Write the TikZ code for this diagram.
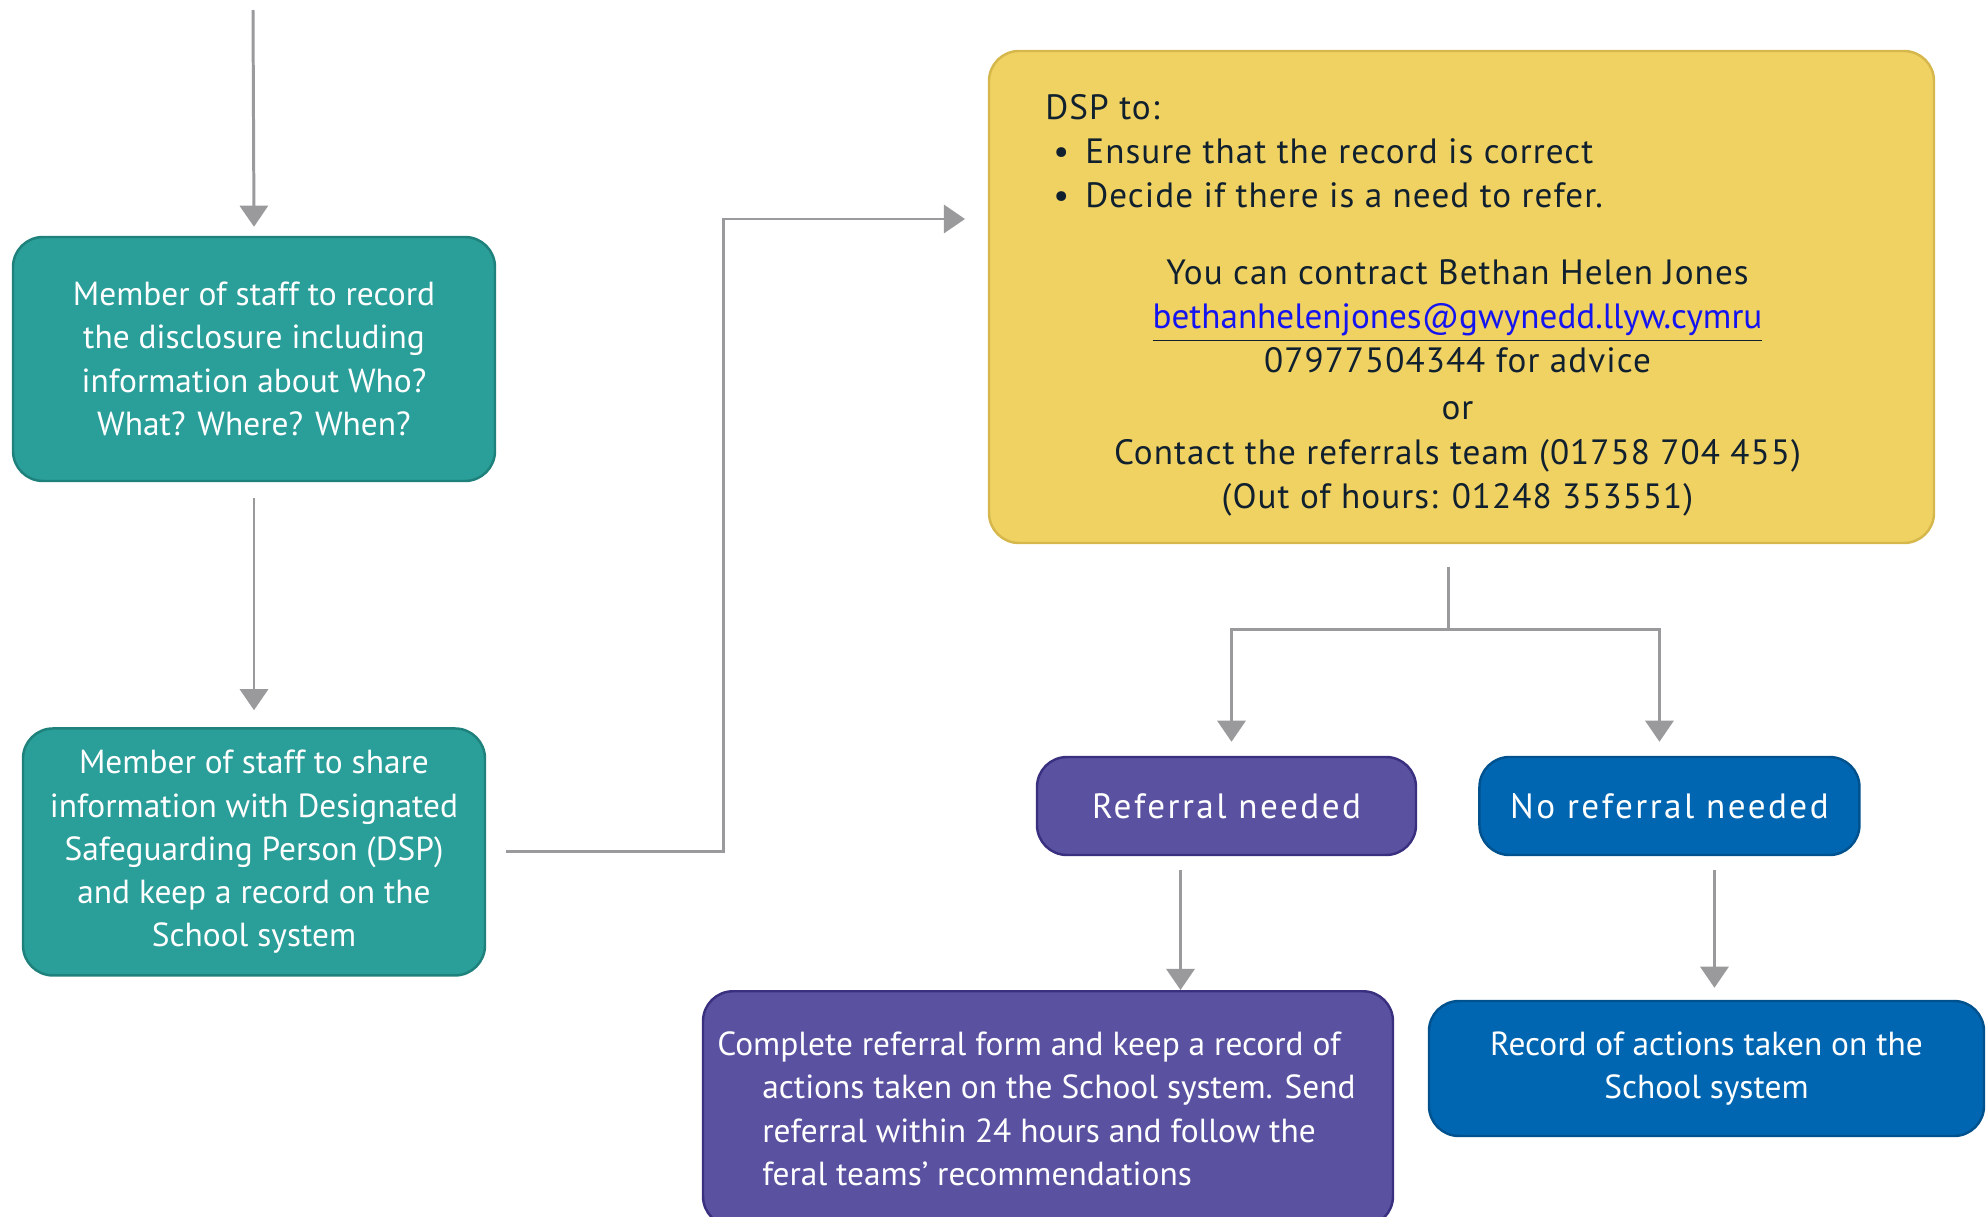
\documentclass[tikz,border=0pt]{standalone}
\usepackage{fontspec}
\setmainfont{PT Sans}
\newfontfamily\dspfont[LetterSpace=3]{PT Sans}
\newfontfamily\buttonfont[LetterSpace=7]{PT Sans}
\usetikzlibrary{positioning,arrows.meta}
\definecolor{staffteal}{HTML}{2A9E99}
\definecolor{staffedge}{HTML}{1F817C}
\definecolor{dspyellow}{HTML}{F0D263}
\definecolor{dspedge}{HTML}{D5B74C}
\definecolor{refpurple}{HTML}{5A52A1}
\definecolor{refedge}{HTML}{3A3080}
\definecolor{norefblue}{HTML}{0066B2}
\definecolor{norefedge}{HTML}{00528F}
\definecolor{linegray}{HTML}{9A9A9D}
\definecolor{dspink}{HTML}{10202E}
\definecolor{mailblue}{HTML}{1414F0}

\begin{document}
\begin{tikzpicture}[
    x=0.1mm,y=-0.1mm,
    >={Triangle[width=8pt,length=6pt]},
    box/.style={rounded corners=3mm,line width=0.7pt,align=center,inner sep=0pt,
      text=white,font=\fontsize{9.5pt}{12.3pt}\selectfont},
    staffbox/.style={box,fill=staffteal,draw=staffedge},
    dspbox/.style={box,fill=dspyellow,draw=dspedge,minimum width=94.5mm,minimum height=49.2mm},
    dsptext/.style={inner sep=0pt,text=dspink,font=\dspfont\fontsize{10pt}{12.5pt}\selectfont},
    refbox/.style={box,fill=refpurple,draw=refedge},
    norefbox/.style={box,fill=norefblue,draw=norefedge},
    button/.style={font=\buttonfont\fontsize{10pt}{12.3pt}\selectfont,minimum height=9.8mm},
    wire/.style={draw=linegray,line width=0.85pt},
    flow/.style={wire,->}]
    \useasboundingbox (0,0) rectangle (1986,1217);

    % left column
    \node[staffbox,minimum width=48.2mm,minimum height=24.4mm] (record) at (254,359)
      {Member of staff to record\\the disclosure including\\information about Who?\\What? Where? When?};
    \node[staffbox,minimum width=46.2mm,minimum height=24.7mm,below=24.5mm of record] (share)
      {Member of staff to share\\information with Designated\\Safeguarding Person (DSP)\\and keep a record on the\\School system};

    % DSP box
    \node[dspbox] (dsp) at (1461.5,297) {};
    \node[dsptext,align=left,anchor=north west] (dsplist) at ([xshift=5.7mm,yshift=-4.4mm]dsp.north west)
      {DSP to:\\\hspace*{0.8mm}\textbullet\hspace{1.6mm}Ensure that the record is correct\\
       \hspace*{0.8mm}\textbullet\hspace{1.6mm}Decide if there is a need to refer.};
    \node[dsptext,align=center,anchor=north] (dspcontact) at ([xshift=-0.4mm,yshift=-20.9mm]dsp.north)
      {You can contract Bethan Helen Jones\\
       \underline{\rmfamily\textcolor{mailblue}{bethanhelenjones@gwynedd.llyw.cymru}}\\
       07977504344 for advice\\[0.3mm] or\\[0.1mm]
       Contact the referrals team (01758 704 455)\\
       (Out of hours: 01248 353551)};

    % outcomes
    \node[refbox,button,minimum width=37.9mm] (referral) at (1226.5,806) {Referral needed};
    \node[norefbox,button,minimum width=38mm,right=6.1mm of referral] (noreferral) {No referral needed};
    \node[refbox,minimum width=69mm,minimum height=23.5mm,anchor=north,align=left] (form) at (1048,990)
      {\hspace*{-2.3mm}Complete referral form and keep a record of\\
       \hspace*{2.2mm}actions taken on the School system. Send\\
       \hspace*{2.2mm}referral within 24 hours and follow the\\
       \hspace*{2.2mm}feral teams' recommendations};
    \node[norefbox,minimum width=55.5mm,minimum height=13.5mm] (actions) at (1706.5,1068.5)
      {Record of actions taken on the\\School system};

    % connectors
    \coordinate (start) at (253,10);
    \coordinate (dspin) at (965,219);
    \coordinate (refout) at ([xshift=-4.6mm,yshift=-1.4mm]referral.south);
    \coordinate (norefout) at ([xshift=4.5mm,yshift=-1.4mm]noreferral.south);
    \draw[flow] (start) -- ([yshift=0.9mm]record.north);
    \draw[flow] ([yshift=-1.6mm]record.south) -- ([yshift=1.7mm]share.north);
    \draw[flow] ([xshift=2mm]share.east) -- ++(21.7mm,0) |- (dspin);
    \draw[wire] ([xshift=-1.3mm,yshift=-2.3mm]dsp.south) -- ++(0,-6.2mm) coordinate (split);
    \draw[flow] (split) -| ([xshift=0.5mm,yshift=1.4mm]referral.north);
    \draw[flow] (split) -| ([xshift=-1mm,yshift=1.4mm]noreferral.north);
    \draw[flow] (refout) -- (refout |- form.north);
    \draw[flow,shorten >=1.2mm] (norefout) -- (norefout |- actions.north);
\end{tikzpicture}
\end{document}
